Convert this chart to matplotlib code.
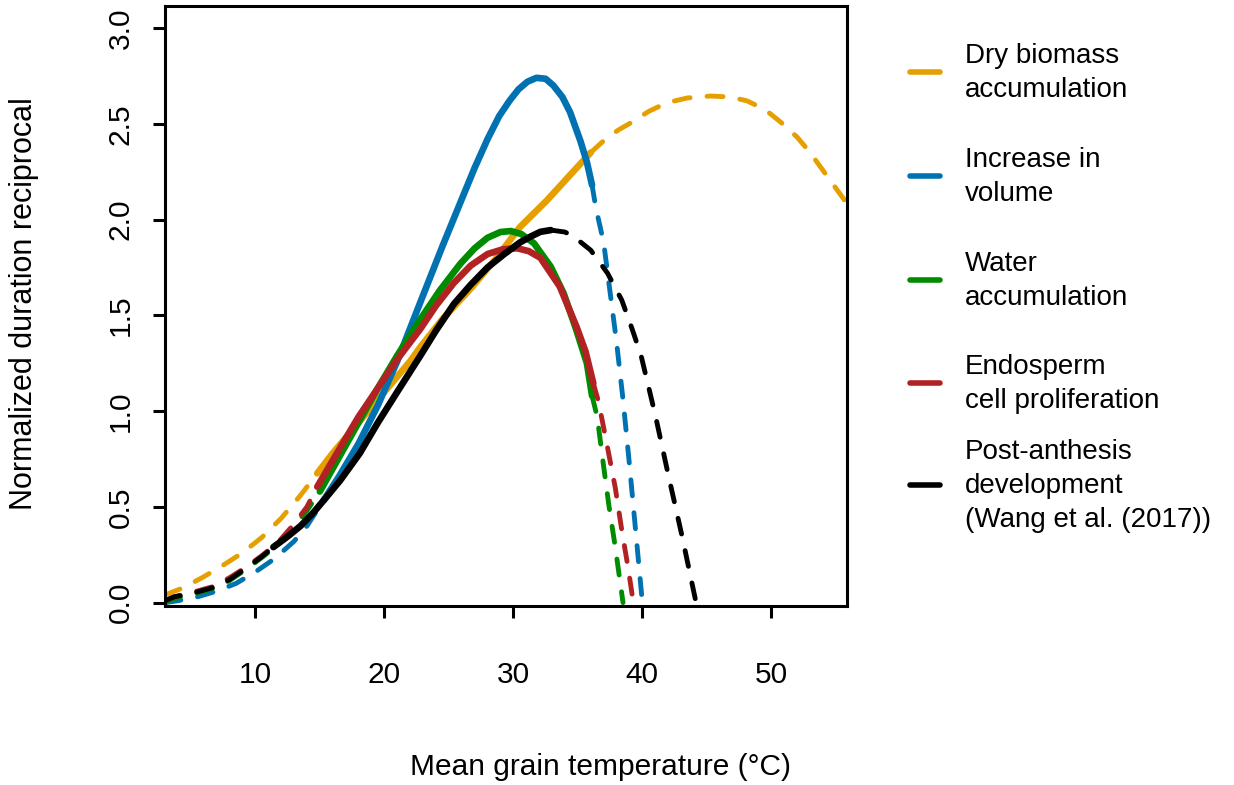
import matplotlib
matplotlib.use("Agg")
import matplotlib.pyplot as plt
from matplotlib.lines import Line2D
import numpy as np

plt.rcParams['font.family'] = ['Liberation Sans', 'DejaVu Sans']

# ---------------- data ----------------
series_names = ["Dry biomass\naccumulation", "Increase in\nvolume", "Water\naccumulation",
                "Endosperm\ncell proliferation", "Post-anthesis\ndevelopment\n(Wang et al. (2017))"]
series_colors = ["#E69F00", "#0072B2", "#008B00", "#B22222", "#000000"]

dry_x = [3.0, 4.5, 6.0, 7.5, 9.0, 10.5, 12.0, 13.5, 14.8, 16.0, 17.0, 18.0, 19.0, 20.0, 21.0, 22.0,
         22.8, 24.5, 26.7, 28.7, 30.5, 32.6, 34.5, 36.0, 37.3, 38.2, 39.1, 40.5, 41.9, 43.5, 45.3,
         46.8, 48.1, 49.5, 50.7, 52.0, 53.0, 54.5, 55.9]
dry_y = [0.04, 0.08, 0.135, 0.195, 0.26, 0.34, 0.44, 0.56, 0.675, 0.78, 0.86, 0.94, 1.02, 1.10,
         1.18, 1.26, 1.335, 1.48, 1.64, 1.80, 1.96, 2.10, 2.24, 2.35, 2.43, 2.47, 2.505, 2.565,
         2.61, 2.635, 2.645, 2.64, 2.62, 2.575, 2.51, 2.43, 2.35, 2.21, 2.08]
dry_obs = (14.8, 36.0)

vol_x = [3.0, 4.0, 5.5, 7.0, 8.5, 10.0, 11.5, 13.0, 14.0, 15.3, 16.5, 18.0, 19.5, 21.0, 22.8,
         24.5, 25.9, 27.0, 28.0, 28.9, 29.7, 30.4, 31.1, 31.8, 32.5, 33.1, 33.8, 34.4, 35.2, 35.7,
         36.1, 36.4, 37.0, 37.5, 38.0, 38.5, 39.0, 39.5, 40.0]
vol_y = [0.0, 0.01, 0.03, 0.06, 0.10, 0.16, 0.23, 0.32, 0.40, 0.535, 0.66, 0.83, 1.03, 1.26, 1.57,
         1.86, 2.09, 2.27, 2.42, 2.54, 2.62, 2.68, 2.72, 2.74, 2.735, 2.70, 2.64, 2.56, 2.41, 2.30,
         2.18, 2.06, 1.88, 1.62, 1.36, 1.06, 0.72, 0.36, 0.0]
vol_obs = (15.3, 36.1)

water_x = [3.0, 3.7, 5.2, 6.8, 8.0, 9.4, 10.5, 11.7, 13.0, 14.0, 15.0, 16.5, 18.0, 19.5, 21.0,
           22.8, 24.3, 25.9, 27.0, 28.0, 29.0, 29.8, 30.6, 31.6, 32.9, 33.9, 34.9, 35.7, 36.1,
           36.5, 37.0, 37.4, 37.9, 38.5]
water_y = [0.005, 0.02, 0.045, 0.075, 0.115, 0.18, 0.235, 0.30, 0.40, 0.48, 0.58, 0.76, 0.94, 1.12,
           1.29, 1.48, 1.63, 1.77, 1.85, 1.905, 1.935, 1.94, 1.925, 1.876, 1.754, 1.615, 1.42,
           1.25, 1.08, 0.97, 0.71, 0.51, 0.29, 0.0]
water_obs = (15.0, 36.1)

endo_x = [3.0, 3.7, 5.2, 6.8, 8.0, 9.4, 10.5, 11.7, 13.0, 14.0, 14.8, 16.5, 18.0, 19.5, 21.0,
          22.8, 24.0, 25.4, 26.7, 28.0, 29.2, 30.3, 31.2, 32.1, 33.6, 34.9, 35.6, 36.2, 36.6,
          37.3, 37.9, 38.4, 38.9, 39.3]
endo_y = [0.01, 0.03, 0.055, 0.085, 0.13, 0.19, 0.245, 0.31, 0.41, 0.50, 0.605, 0.80, 0.97, 1.12,
          1.27, 1.43, 1.55, 1.67, 1.76, 1.82, 1.845, 1.85, 1.835, 1.80, 1.65, 1.44, 1.31, 1.145,
          1.05, 0.81, 0.60, 0.38, 0.18, 0.0]
endo_obs = (14.8, 36.2)

dev_x = [3.0, 3.7, 5.2, 6.8, 8.0, 9.4, 10.5, 11.4, 12.5, 13.5, 14.5, 15.5, 16.6, 18.1, 19.5, 21.0,
         22.8, 24.0, 25.4, 26.7, 28.0, 29.3, 30.5, 31.3, 32.1, 32.9, 34.0, 34.7, 36.0, 37.3, 38.4,
         39.2, 39.9, 41.0, 42.0, 43.1, 44.1]
dev_y = [0.01, 0.03, 0.05, 0.08, 0.12, 0.185, 0.24, 0.29, 0.345, 0.40, 0.47, 0.55, 0.64, 0.78, 0.94,
         1.10, 1.29, 1.42, 1.56, 1.66, 1.75, 1.82, 1.88, 1.91, 1.936, 1.945, 1.935, 1.91, 1.84,
         1.72, 1.58, 1.43, 1.29, 0.98, 0.67, 0.34, 0.02]
dev_obs = (11.4, 32.9)

x_ticks = [10, 20, 30, 40, 50]
y_ticks = [0.0, 0.5, 1.0, 1.5, 2.0, 2.5, 3.0]
y_ticklabels = ["0.0", "0.5", "1.0", "1.5", "2.0", "2.5", "3.0"]

# ---------------- figure ----------------
W, H = 1234, 785
fig = plt.figure(figsize=(W / 100, H / 100), dpi=100)
ax = fig.add_axes([165 / W, 1 - 605.7 / H, (847.5 - 165) / W, (605.7 - 6) / H])
ax.set_xlim(3.0, 55.9)
ax.set_ylim(-0.016, 3.115)

all_series = [(dry_x, dry_y, dry_obs), (vol_x, vol_y, vol_obs), (water_x, water_y, water_obs),
              (endo_x, endo_y, endo_obs), (dev_x, dev_y, dev_obs)]

for (xs, ys, (lo, hi)), col in zip(all_series, series_colors):
    xs = np.asarray(xs)
    ys = np.asarray(ys)
    left = xs <= lo
    mid = (xs >= lo) & (xs <= hi)
    right = xs >= hi
    dash_kw = dict(color=col, lw=3.5, linestyle=(0, (3.3, 3.5)), dash_capstyle='round',
                   clip_on=True)
    ax.plot(xs[left], ys[left], **dash_kw)
    ax.plot(xs[right], ys[right], **dash_kw)
    ax.plot(xs[mid], ys[mid], color=col, lw=4.8, solid_capstyle='round',
            solid_joinstyle='round')

for sp in ax.spines.values():
    sp.set_linewidth(2.2)
ax.set_xticks(x_ticks)
ax.set_xticklabels([str(t) for t in x_ticks])
ax.set_yticks(y_ticks)
ax.set_yticklabels(y_ticklabels, rotation=90, va='center')
ax.tick_params(axis='both', direction='out', length=8.6, width=2.2, labelsize=21.5)
ax.tick_params(axis='x', pad=31)
ax.tick_params(axis='y', pad=13)

fig.text(600 / W, 1 - 767 / H, "Mean grain temperature (°C)", ha='center', va='center',
         fontsize=21.5)
fig.text(24 / W, 1 - 304 / H, "Normalized duration reciprocal", ha='center', va='center',
         rotation=90, fontsize=22)

# ---------------- legend ----------------
handle_y = [72, 176, 280, 383, 485]
for name, col, hy in zip(series_names, series_colors, handle_y):
    fig.add_artist(Line2D([910 / W, 940 / W], [1 - hy / H] * 2, transform=fig.transFigure,
                          color=col, lw=4.0, solid_capstyle='round'))
    fig.text(965 / W, 1 - (hy + 1) / H, name, ha='left', va='center', fontsize=20,
             linespacing=1.38)

fig.savefig("out.png", dpi=100)
